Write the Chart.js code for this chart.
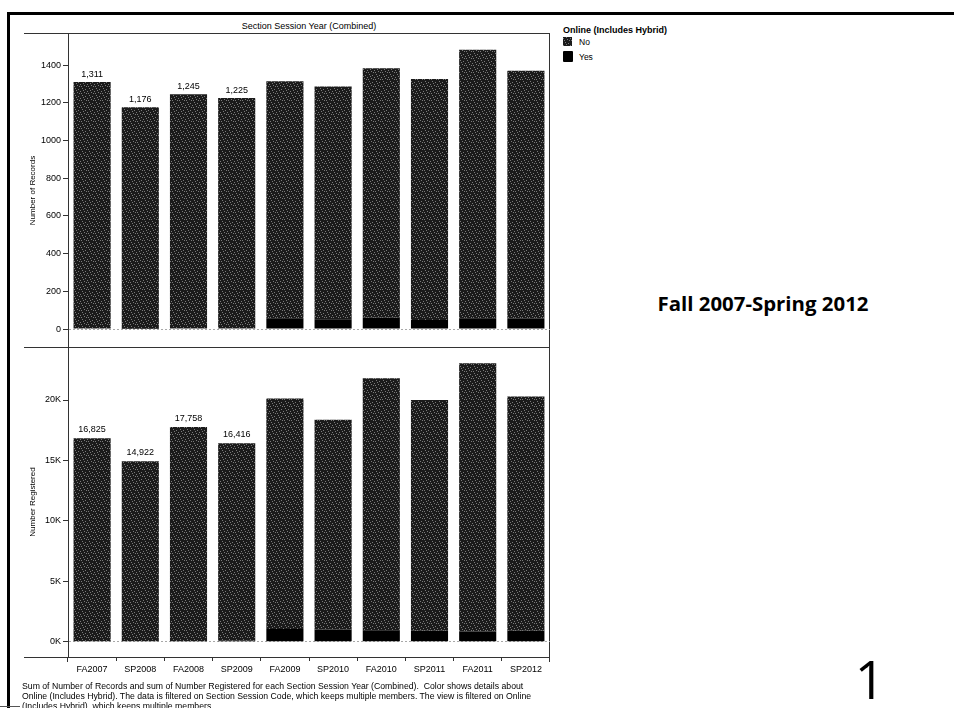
<!DOCTYPE html>
<html>
<head>
<meta charset="utf-8">
<script src="https://cdn.jsdelivr.net/npm/chart.js@4.4.1/dist/chart.umd.min.js"></script>
<style>
  body { margin: 0; width: 954px; height: 708px; background: #fff; position: relative; overflow: hidden;
         font-family: "Liberation Sans", Arial, sans-serif; color: #000; }
  .abs { position: absolute; }
  .line { position: absolute; background: #000; }
  canvas { position: absolute; }
  .foot { left: 22px; top: 681px; font-size: 8.7px; line-height: 10px; white-space: nowrap; }
</style>
</head>
<body>
<!-- slide frame -->
<div class="line" style="left:8px;top:12px;width:946px;height:3px;"></div>
<div class="line" style="left:7px;top:12px;width:3px;height:696px;"></div>
<div class="line" style="left:0;top:706px;width:20px;height:1px;background:#555"></div>

<!-- panel lines -->
<div class="abs" style="left:68px;top:21px;width:482px;text-align:center;font-size:9px;">Section Session Year (Combined)</div>
<div class="line" style="left:24px;top:33px;width:526px;height:1px;background:#333"></div>
<div class="line" style="left:24px;top:347px;width:526px;height:1px;background:#333"></div>
<div class="line" style="left:24px;top:657px;width:526px;height:1px;background:#333"></div>
<div class="line" style="left:549px;top:33px;width:1px;height:629px;background:#333"></div>
<div class="line" style="left:67px;top:657px;width:1px;height:5px;background:#333"></div>

<canvas id="recordsChart" width="526" height="313" style="left:24px;top:34px;"></canvas>
<canvas id="registeredChart" width="526" height="335" style="left:24px;top:347px;"></canvas>

<!-- legend -->
<div class="abs" style="left:563px;top:25px;font-size:9px;font-weight:bold;">Online (Includes Hybrid)</div>
<div class="abs" id="noSwatch" style="left:563px;top:37px;width:9px;height:9px;background:#444;"></div>
<div class="abs" style="left:579px;top:37px;font-size:8.5px;">No</div>
<div class="abs" style="left:563px;top:51px;width:10px;height:11px;background:#000;border-radius:1px;"></div>
<div class="abs" style="left:579px;top:52px;font-size:8.5px;">Yes</div>

<div class="abs" style="left:600px;top:289px;width:326px;text-align:center;font-family:'Open Sans';font-weight:bold;font-size:20.4px;">Fall 2007-Spring 2012</div>
<div class="abs" style="left:840px;top:644px;width:60px;text-align:center;font-family:'Open Sans';font-size:53px;line-height:70px;">1</div>

<div class="abs foot">Sum of Number of Records and sum of Number Registered for each Section Session Year (Combined).&nbsp; Color shows details about<br>Online (Includes Hybrid). The data is filtered on Section Session Code, which keeps multiple members. The view is filtered on Online<br>(Includes Hybrid), which keeps multiple members.</div>

<script>
// terms along the x axis
const terms = ['FA2007', 'SP2008', 'FA2008', 'SP2009', 'FA2009', 'SP2010', 'FA2010', 'SP2011', 'FA2011', 'SP2012'];

// Number of Records, split by Online (Includes Hybrid)
const recordsYes = [3, 2, 4, 5, 57, 52, 60, 48, 58, 55];
const recordsNo = [1308, 1174, 1241, 1220, 1257, 1235, 1324, 1278, 1423, 1315];

// Number Registered, split by Online (Includes Hybrid)
const registeredYes = [40, 30, 60, 70, 1050, 1000, 950, 900, 850, 900];
const registeredNo = [16785, 14892, 17698, 16346, 19080, 17360, 20840, 19100, 22200, 19400];

// tick values
const recordTicks = [0, 200, 400, 600, 800, 1000, 1200, 1400];
const registeredTicks = [0, 5000, 10000, 15000, 20000];

// only these bars carry a total label in the original
const annotatedTerms = ['FA2007', 'SP2008', 'FA2008', 'SP2009'];

const FONT = '"Liberation Sans", Arial, sans-serif';

// speckled dark grey for "No" (scan look)
function makeSpeckle() {
    const c = document.createElement('canvas');
    c.width = 7; c.height = 7;
    const g = c.getContext('2d');
    g.fillStyle = '#1b1b1b';
    g.fillRect(0, 0, 7, 7);
    g.fillStyle = '#7a7a7a';
    [[0, 1], [3, 0], [6, 3], [2, 5], [5, 6], [1, 3], [4, 2]].forEach(p => g.fillRect(p[0], p[1], 1, 1));
    return g.createPattern(c, 'repeat');
}
const speckle = makeSpeckle();

const totalsPlugin = {
    id: 'totals',
    afterDatasetsDraw(chart, args, opts) {
        const ctx = chart.ctx;
        const top = chart.getDatasetMeta(chart.data.datasets.length - 1);
        ctx.save();
        ctx.font = '9px ' + FONT;
        ctx.fillStyle = '#000';
        ctx.textAlign = 'center';
        ctx.textBaseline = 'bottom';
        chart.data.labels.forEach((term, i) => {
            if (!annotatedTerms.includes(term)) return;
            const total = chart.data.datasets.reduce((s, d) => s + d.data[i], 0);
            const bar = top.data[i];
            ctx.fillText(total.toLocaleString('en-US'), bar.x, bar.y - opts.offset);
        });
        ctx.restore();
    }
};

function yAxis(title, min, max, tickVals, fmt) {
    return {
        stacked: true,
        min: min,
        max: max,
        afterBuildTicks: s => { s.ticks = tickVals.map(v => ({ value: v })); },
        afterFit: s => { s.width = 44; s.paddingTop = 0; s.paddingBottom = 0; },
        ticks: { font: { size: 9, family: FONT }, color: '#000', padding: 2, callback: fmt },
        grid: {
            color: c => (c.tick && c.tick.value === 0) ? '#a8a8a8' : 'rgba(0,0,0,0)',
            tickColor: '#333', tickLength: 5, tickBorderDash: []
        },
        border: { display: true, color: '#333', dash: [2, 2] },
        title: { display: true, text: title, color: '#000', font: { size: 8, family: FONT }, padding: { top: 4, bottom: 0 } }
    };
}

function makeChart(id, yes, no, yScale, xShown, labelOffset) {
    new Chart(document.getElementById(id), {
        type: 'bar',
        data: {
            labels: terms,
            datasets: [
                { label: 'Yes', data: yes, backgroundColor: '#000', barPercentage: 0.77, categoryPercentage: 1 },
                { label: 'No', data: no, backgroundColor: speckle, barPercentage: 0.77, categoryPercentage: 1 }
            ]
        },
        options: {
            responsive: false,
            animation: false,
            layout: { padding: 0 },
            plugins: { legend: { display: false }, tooltip: { enabled: false }, totals: { offset: labelOffset } },
            scales: {
                x: {
                    stacked: true,
                    display: xShown,
                    offset: true,
                    afterFit: s => { if (xShown) s.height = 25; s.paddingLeft = 0; s.paddingRight = 0; },
                    ticks: { font: { size: 9, family: FONT }, color: '#000', padding: 3, maxRotation: 0, autoSkip: false },
                    grid: { offset: true, drawOnChartArea: false, color: '#333', tickLength: 4 },
                    border: { display: false }
                },
                y: yScale
            }
        },
        plugins: [totalsPlugin]
    });
}

makeChart('recordsChart', recordsYes, recordsNo,
    yAxis('Number of Records', -95, 1565, recordTicks, v => v), false, 3);
makeChart('registeredChart', registeredYes, registeredNo,
    yAxis('Number Registered', -1266, 24386, registeredTicks, v => (v / 1000) + 'K'), true, 4);

// legend swatch uses the same speckle
const sw = document.createElement('canvas');
sw.width = 9; sw.height = 9;
const swc = sw.getContext('2d');
swc.fillStyle = speckle; swc.fillRect(0, 0, 9, 9);
document.getElementById('noSwatch').style.background = 'url(' + sw.toDataURL() + ')';
</script>
</body>
</html>
